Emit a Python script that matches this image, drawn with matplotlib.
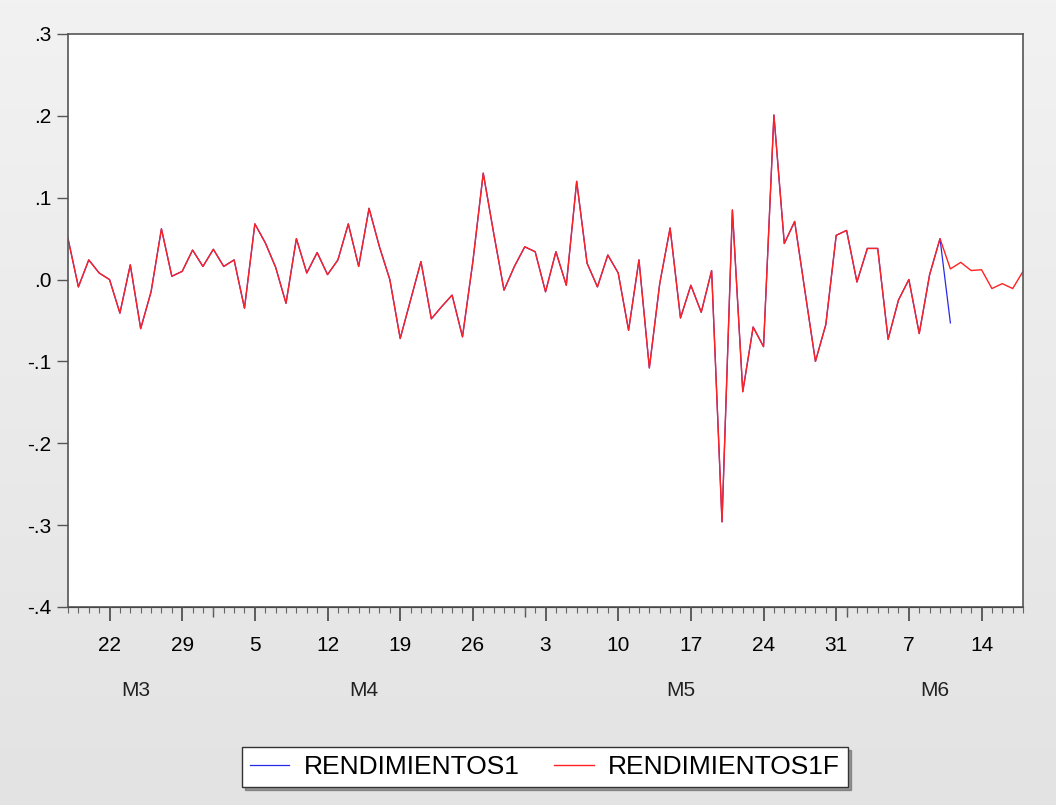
import matplotlib
matplotlib.use("Agg")
import matplotlib.pyplot as plt
import matplotlib.dates as mdates
import numpy as np
import pandas as pd
from matplotlib.colors import LinearSegmentedColormap
from matplotlib.transforms import blended_transform_factory

# daily returns, 2021-03-18 .. 2021-06-18
START_DATE = "2021-03-18"

RENDIMIENTOS1 = [
    0.050, -0.009, 0.024, 0.008, 0.000, -0.041, 0.018, -0.060, -0.015, 0.062,
    0.004, 0.010, 0.036, 0.016, 0.037, 0.016, 0.024, -0.035, 0.068, 0.045,
    0.015, -0.029, 0.050, 0.008, 0.033, 0.006, 0.024, 0.068, 0.016, 0.087,
    0.040, 0.000, -0.072, -0.025, 0.022, -0.048, -0.033, -0.019, -0.070, 0.022,
    0.130, 0.057, -0.013, 0.016, 0.040, 0.034, -0.015, 0.034, -0.007, 0.120,
    0.020, -0.009, 0.030, 0.008, -0.062, 0.024, -0.108, -0.005, 0.063, -0.047,
    -0.007, -0.040, 0.011, -0.296, 0.085, -0.137, -0.058, -0.082, 0.201, 0.044,
    0.071, -0.015, -0.100, -0.055, 0.054, 0.060, -0.003, 0.038, 0.038, -0.073,
    -0.025, 0.000, -0.066, 0.006, 0.050, -0.053,
]

# forecast: equal to the actual series in sample, then out-of-sample values
FORECAST_TAIL = [0.013, 0.021, 0.011, 0.012, -0.011, -0.005, -0.011, 0.010]
RENDIMIENTOS1F = RENDIMIENTOS1[:-1] + FORECAST_TAIL

Y_TICKS = [-0.4, -0.3, -0.2, -0.1, 0.0, 0.1, 0.2, 0.3]
Y_LABELS = ["-.4", "-.3", "-.2", "-.1", ".0", ".1", ".2", ".3"]

FONT = "Liberation Sans"
TICK_SIZE = 15

dates_f = pd.date_range(START_DATE, periods=len(RENDIMIENTOS1F), freq="D")
dates_a = dates_f[:len(RENDIMIENTOS1)]
xf = mdates.date2num(dates_f)
xa = mdates.date2num(dates_a)

fig = plt.figure(figsize=(10.56, 8.05), dpi=100)

# light grey gradient background
bg = fig.add_axes([0, 0, 1, 1], zorder=-10)
grad = np.linspace(0, 1, 256).reshape(-1, 1)
bg.imshow(grad, aspect="auto", extent=(0, 1, 0, 1),
          cmap=LinearSegmentedColormap.from_list("bg", ["#F2F2F2", "#E3E3E3"]))
bg.set_axis_off()

ax = fig.add_axes([0.0644, 0.246, 0.9044, 0.7118])
ax.set_facecolor("white")

ax.plot(xa, RENDIMIENTOS1, color="#2828E8", lw=0.9, label="RENDIMIENTOS1")
ax.plot(xf, RENDIMIENTOS1F, color="#FF2222", lw=1.0, label="RENDIMIENTOS1F")

ax.set_xlim(xf[0], xf[-1])
ax.set_ylim(-0.4, 0.3)
ax.set_yticks(Y_TICKS)
ax.set_yticklabels(Y_LABELS, fontfamily=FONT, fontsize=TICK_SIZE)
ax.tick_params(axis="y", direction="out", length=8, width=1, pad=4, color="#555555")

# x axis: weekly majors on Mondays, daily minors
ax.xaxis.set_major_locator(mdates.WeekdayLocator(byweekday=mdates.MO))
ax.xaxis.set_major_formatter(mdates.DateFormatter("%-d"))
ax.xaxis.set_minor_locator(mdates.DayLocator())
ax.tick_params(axis="x", which="major", direction="out", length=10, width=1.2,
               pad=11, color="#444444", labelsize=TICK_SIZE)
ax.tick_params(axis="x", which="minor", direction="out", length=4, width=0.8,
               color="#666666")
for lbl in ax.get_xticklabels():
    lbl.set_fontfamily(FONT)

# month start ticks
month_starts = [d for d in dates_f if d.day == 1]
sec = ax.secondary_xaxis("bottom")
sec.set_xticks(mdates.date2num(month_starts))
sec.set_xticklabels([""] * len(month_starts))
sec.tick_params(direction="out", length=7, width=1, color="#555555")

# month labels below the day numbers
trans = blended_transform_factory(ax.transData, ax.transAxes)
months = pd.Series(xf, index=dates_f).groupby(dates_f.month)
for m, vals in months:
    mid = (vals.iloc[0] + vals.iloc[-1]) / 2
    ax.text(mid, -0.145, f"M{m}", transform=trans, ha="center", va="center",
            fontsize=TICK_SIZE, fontfamily=FONT, color="#222222")

for side in ["left", "bottom", "top", "right"]:
    ax.spines[side].set_color("#555555")
    ax.spines[side].set_linewidth(1.2)

leg = ax.legend(loc="center", bbox_to_anchor=(0.516, 0.047),
                bbox_transform=fig.transFigure, ncol=2, frameon=True,
                fancybox=False, shadow=True, edgecolor="#333333",
                prop={"family": FONT, "size": 19}, handlelength=1.5,
                columnspacing=1.3, borderpad=0.3, handletextpad=0.55,
                borderaxespad=0)
leg.get_frame().set_linewidth(1.0)

fig.savefig("out.png", dpi=100)
